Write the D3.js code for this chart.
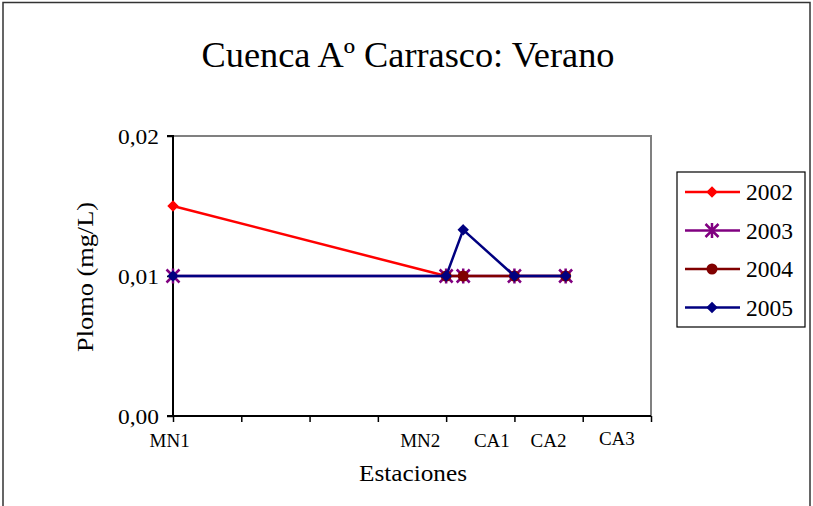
<!DOCTYPE html>
<html>
<head>
<meta charset="utf-8">
<script src="https://cdn.jsdelivr.net/npm/d3@7"></script>
</head>
<body style="margin:0;background:#fff">
<svg id="chart" width="813" height="506" style="display:block"></svg>
<script>
// Lead concentration (mg/L) by station position along the stream, summer samples
const years = ["2002", "2003", "2004", "2005"];
const x2002 = [0, 4];
const y2002 = [0.015, 0.01];
const x2003 = [0, 4, 4.25, 5, 5.75];
const y2003 = [0.01, 0.01, 0.01, 0.01, 0.01];
const x2004 = [4, 4.25, 5, 5.75];
const y2004 = [0.01, 0.01, 0.01, 0.01];
const x2005 = [0, 4, 4.25, 5, 5.75];
const y2005 = [0.01, 0.01, 0.0133, 0.01, 0.01];

const yTicks = [0, 0.01, 0.02];
const yTickLabels = ["0,00", "0,01", "0,02"];
const xTicks = [0, 1, 2, 3, 4, 5, 6, 7];
const stations = ["MN1", "MN2", "CA1", "CA2", "CA3"];
const stationAt = [-0.05, 3.62, 4.67, 5.5, 6.5];

const titleText = "Cuenca Aº Carrasco: Verano";
const yTitle = "Plomo (mg/L)";
const xTitle = "Estaciones";

const colors = { "2002": "#ff0000", "2003": "#800080", "2004": "#800000", "2005": "#000080" };
const markers = { "2002": "diamond", "2003": "star", "2004": "circle", "2005": "diamond" };

const FONT = "Liberation Serif";

const series = [
  { name: "2002", xs: x2002, ys: y2002 },
  { name: "2003", xs: x2003, ys: y2003 },
  { name: "2004", xs: x2004, ys: y2004 },
  { name: "2005", xs: x2005, ys: y2005 }
].map(s => ({ name: s.name, pts: s.xs.map((v, i) => ({ x: v, y: s.ys[i] })) }));

const svg = d3.select("#chart").attr("font-family", FONT);

// outer frame
svg.append("rect").attr("x", 3).attr("y", 2.5).attr("width", 807).attr("height", 520)
  .attr("fill", "none").attr("stroke", "#333").attr("stroke-width", 1.5);

const L = 173, R = 651, T = 136, B = 416;
const x = d3.scaleLinear().domain([0, 7]).range([L, R]);
const y = d3.scaleLinear().domain([0, 0.02]).range([B, T]);

// title
svg.append("text").attr("x", 408).attr("y", 67).attr("text-anchor", "middle")
  .attr("font-family", FONT).attr("font-size", 35).attr("fill", "#000")
  .attr("textLength", 413).attr("lengthAdjust", "spacingAndGlyphs").text(titleText);

// plot frame (top and right in gray)
svg.append("path")
  .attr("d", `M${L},${T}H${R}V${B}`)
  .attr("fill", "none").attr("stroke", "#808080").attr("stroke-width", 2);

// y axis
const yAxis = d3.axisLeft(y).tickValues(yTicks).tickSize(6).tickPadding(8)
  .tickFormat((d, i) => yTickLabels[i]);
const gy = svg.append("g").attr("transform", `translate(${L},0)`).call(yAxis);
gy.attr("font-family", FONT);
gy.select(".domain").attr("stroke", "#000").attr("stroke-width", 2).attr("d", `M-6,${T}H0V${B}H-6`);
gy.selectAll(".tick line").attr("stroke", "#000").attr("stroke-width", 1.5);
gy.selectAll(".tick text").attr("font-size", 22).attr("font-family", FONT).attr("fill", "#000")
  .attr("dy", "0.33em").attr("textLength", 41).attr("lengthAdjust", "spacingAndGlyphs");

// x axis
const xAxis = d3.axisBottom(x).tickValues(xTicks).tickSize(6).tickFormat("");
const gx = svg.append("g").attr("transform", `translate(0,${B})`).call(xAxis);
gx.select(".domain").attr("stroke", "#000").attr("stroke-width", 2).attr("d", `M${L},0H${R}`);
gx.selectAll(".tick line").attr("stroke", "#000").attr("stroke-width", 1.5);

// station labels under the axis
svg.append("g").selectAll("text").data(stations).join("text")
  .attr("x", (d, i) => x(stationAt[i]))
  .attr("y", (d, i) => d === "CA3" ? 445 : 447)
  .attr("text-anchor", "middle").attr("font-family", FONT).attr("font-size", 19).attr("fill", "#000")
  .text(d => d);

// axis titles
svg.append("text").attr("x", 413).attr("y", 481).attr("text-anchor", "middle")
  .attr("font-family", FONT).attr("font-size", 24).attr("fill", "#000")
  .attr("textLength", 108).attr("lengthAdjust", "spacingAndGlyphs").text(xTitle);
svg.append("text").attr("transform", "translate(93,277) rotate(-90)")
  .attr("text-anchor", "middle").attr("font-family", FONT).attr("font-size", 24).attr("fill", "#000")
  .attr("textLength", 150).attr("lengthAdjust", "spacingAndGlyphs").text(yTitle);

// marker drawing
function drawMarker(g, kind, color, cx, cy) {
  if (kind === "diamond") {
    g.append("path").attr("d", d3.symbol(d3.symbolDiamond2, 55)())
      .attr("transform", `translate(${cx},${cy})`)
      .attr("fill", color).attr("stroke", color).attr("stroke-width", 1.5);
  } else if (kind === "circle") {
    g.append("circle").attr("cx", cx).attr("cy", cy).attr("r", 5.5).attr("fill", color);
  } else if (kind === "star") {
    const r = 6.5;
    const p = `M${cx - r},${cy - r}L${cx + r},${cy + r}M${cx - r},${cy + r}L${cx + r},${cy - r}M${cx},${cy - r - 1}V${cy + r + 1}`;
    g.append("path").attr("d", p).attr("stroke", color).attr("stroke-width", 2.5).attr("fill", "none");
  }
}

const line = d3.line().x(d => x(d.x)).y(d => y(d.y));
const plot = svg.append("g");
series.forEach(s => {
  const g = plot.append("g");
  g.append("path").datum(s.pts).attr("d", line)
    .attr("fill", "none").attr("stroke", colors[s.name]).attr("stroke-width", 2.5);
  s.pts.forEach(p => drawMarker(g, markers[s.name], colors[s.name], x(p.x), y(p.y)));
});

// legend
const lg = svg.append("g");
lg.append("rect").attr("x", 677).attr("y", 172).attr("width", 128).attr("height", 155)
  .attr("fill", "#fff").attr("stroke", "#000").attr("stroke-width", 1.2);
years.forEach((yr, i) => {
  const cy = 192 + i * 38.5;
  lg.append("line").attr("x1", 685).attr("x2", 740).attr("y1", cy).attr("y2", cy)
    .attr("stroke", colors[yr]).attr("stroke-width", 2.5);
  drawMarker(lg, markers[yr], colors[yr], 712, cy);
  lg.append("text").attr("x", 746).attr("y", cy + 8).attr("font-family", FONT).attr("font-size", 23)
    .attr("fill", "#000").attr("textLength", 47).attr("lengthAdjust", "spacingAndGlyphs").text(yr);
});
</script>
</body>
</html>
